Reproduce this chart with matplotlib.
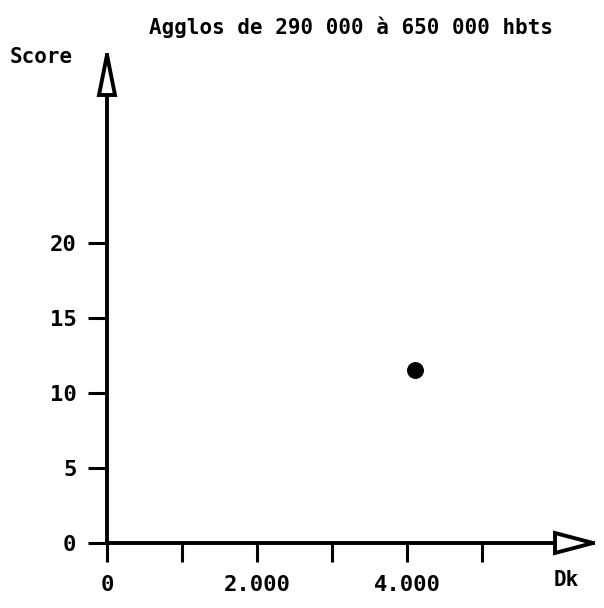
import matplotlib
matplotlib.use("Agg")
import matplotlib.pyplot as plt
from matplotlib.patches import Polygon

# data
dk_values = [4100]
score_values = [11.5]
x_ticks = [0, 1000, 2000, 3000, 4000, 5000]
x_labels = ["0", "", "2.000", "", "4.000", ""]
y_ticks = [0, 5, 10, 15, 20]
title = "Agglos de 290 000 à 650 000 hbts"

W, H = 604, 608
fig = plt.figure(figsize=(W / 100, H / 100), dpi=100)

# origin at pixel (107, 543), arrow tips at x=593 / y=55
ax = fig.add_axes([107 / W, (H - 543) / H, (593 - 107) / W, (543 - 55) / H])
ax.set_xlim(0, 6480)
ax.set_ylim(0, 32.5)

font = dict(family="DejaVu Sans Mono", weight="bold")

ax.scatter(dk_values, score_values, s=125, color="black", zorder=3)

for side in ["top", "right"]:
    ax.spines[side].set_visible(False)
for side in ["left", "bottom"]:
    ax.spines[side].set_linewidth(2.8)

ax.set_xticks(x_ticks)
ax.set_xticklabels(x_labels, fontsize=16, **font)
ax.set_yticks(y_ticks)
ax.set_yticklabels([str(v) for v in y_ticks], fontsize=16, **font)
ax.tick_params(axis="both", length=14, width=2.2, direction="out")
ax.tick_params(axis="x", pad=9)
ax.tick_params(axis="y", pad=8)

# hollow arrowheads at the end of each axis (axes fraction coords)
hx = 38 / (593 - 107)
hy = 10 / (543 - 55)
ax.add_patch(Polygon([(1, 0), (1 - hx, hy), (1 - hx, -hy)], closed=True,
                     transform=ax.transAxes, facecolor="white", edgecolor="black",
                     linewidth=2.8, clip_on=False, zorder=4))
vx = 8 / (593 - 107)
vy = 40 / (543 - 55)
ax.add_patch(Polygon([(0, 1), (-vx, 1 - vy), (vx, 1 - vy)], closed=True,
                     transform=ax.transAxes, facecolor="white", edgecolor="black",
                     linewidth=2.8, clip_on=False, zorder=4))

fig.text(351 / W, 1 - 27 / H, title, ha="center", va="center", fontsize=15, **font)
fig.text(41 / W, 1 - 57 / H, "Score", ha="center", va="center", fontsize=15, **font)
fig.text(566 / W, 1 - 580 / H, "Dk", ha="center", va="center", fontsize=15, **font)

fig.savefig("out.png", dpi=100)
